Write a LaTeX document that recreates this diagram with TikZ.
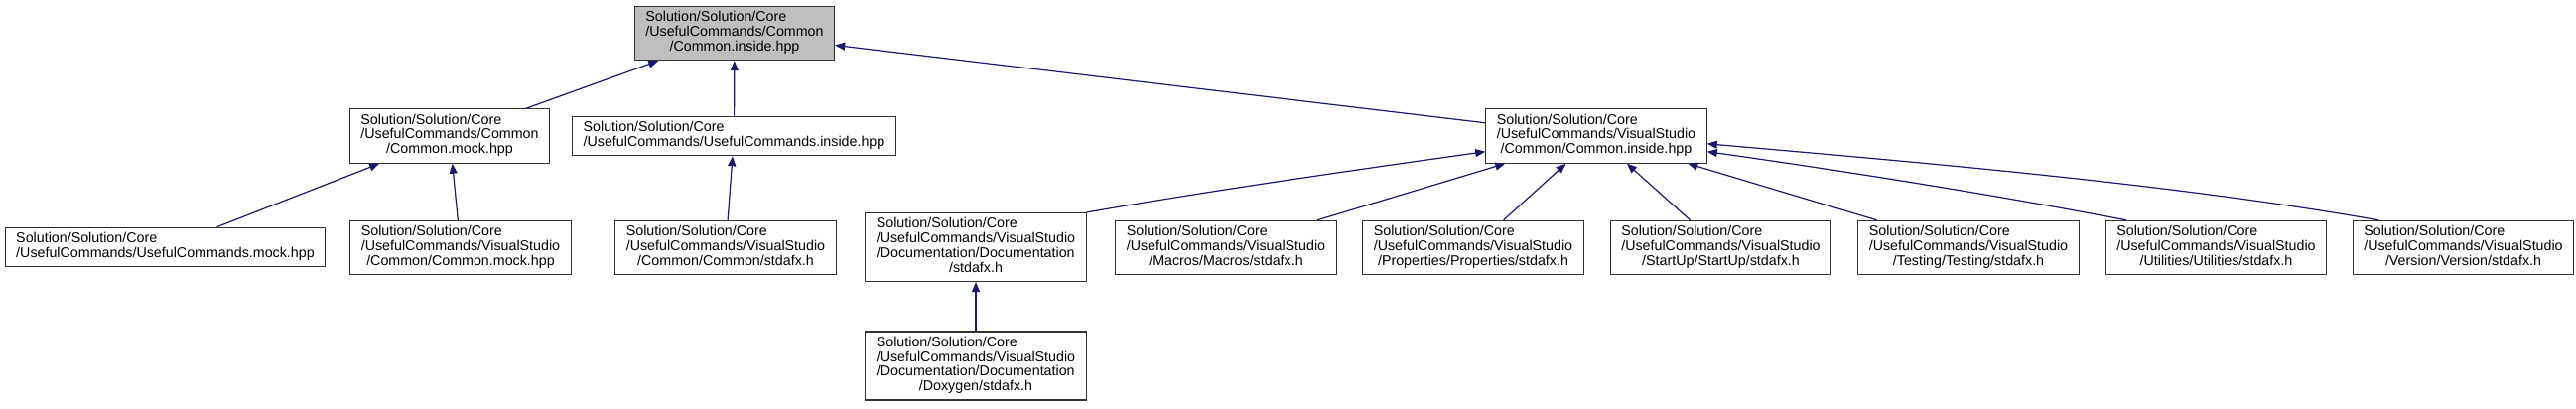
\documentclass[tikz,border=0pt]{standalone}
\usepackage{fontspec}
\setmainfont{Liberation Sans}
\usetikzlibrary{arrows.meta}
\definecolor{azulenlace}{HTML}{191970}
\newcommand{\ruta}[1]{\begin{tabular}{@{}l@{}}#1\end{tabular}}
\newcommand{\ultima}[1]{\multicolumn{1}{@{}c@{}}{#1}}

\begin{document}
\begin{tikzpicture}[
    x=0.75pt,
    y=-0.75pt,
    font=\fontsize{10.7}{11}\selectfont,
    archivo/.style={draw=black!80,line width=0.9pt,fill=white,inner xsep=8.25pt,inner ysep=3.75pt},
    raiz/.style={archivo,fill=black!25},
    incluye/.style={draw=azulenlace,line width=0.9pt,-{Triangle[length=7.5pt,width=6pt]}}
]
    \useasboundingbox (0,0) rectangle (2595,411);

    \node[raiz] (raiz) at (740,33.5)
        {\ruta{Solution/Solution/Core\\/UsefulCommands/Common\\\ultima{/Common.inside.hpp}}};

    \node[archivo] (cmock) at (453,137)
        {\ruta{Solution/Solution/Core\\/UsefulCommands/Common\\\ultima{/Common.mock.hpp}}};
    \node[archivo] (ucin) at (739.5,137)
        {\ruta{Solution/Solution/Core\\/UsefulCommands/UsefulCommands.inside.hpp}};
    \node[archivo] (vsin) at (1608,137)
        {\ruta{Solution/Solution/Core\\/UsefulCommands/VisualStudio\\\ultima{/Common/Common.inside.hpp}}};

    \node[archivo] (ucmock) at (166.5,249)
        {\ruta{Solution/Solution/Core\\/UsefulCommands/UsefulCommands.mock.hpp}};
    \node[archivo] (vscmock) at (464,249.5)
        {\ruta{Solution/Solution/Core\\/UsefulCommands/VisualStudio\\\ultima{/Common/Common.mock.hpp}}};
    \node[archivo] (cstd) at (731,249.5)
        {\ruta{Solution/Solution/Core\\/UsefulCommands/VisualStudio\\\ultima{/Common/Common/stdafx.h}}};
    \node[archivo] (docstd) at (983,249)
        {\ruta{Solution/Solution/Core\\/UsefulCommands/VisualStudio\\/Documentation/Documentation\\\ultima{/stdafx.h}}};
    \node[archivo] (macros) at (1235,249.5)
        {\ruta{Solution/Solution/Core\\/UsefulCommands/VisualStudio\\\ultima{/Macros/Macros/stdafx.h}}};
    \node[archivo] (props) at (1484,249.5)
        {\ruta{Solution/Solution/Core\\/UsefulCommands/VisualStudio\\\ultima{/Properties/Properties/stdafx.h}}};
    \node[archivo] (startup) at (1733.5,249.5)
        {\ruta{Solution/Solution/Core\\/UsefulCommands/VisualStudio\\\ultima{/StartUp/StartUp/stdafx.h}}};
    \node[archivo] (testing) at (1983,249.5)
        {\ruta{Solution/Solution/Core\\/UsefulCommands/VisualStudio\\\ultima{/Testing/Testing/stdafx.h}}};
    \node[archivo] (utils) at (2232.5,249.5)
        {\ruta{Solution/Solution/Core\\/UsefulCommands/VisualStudio\\\ultima{/Utilities/Utilities/stdafx.h}}};
    \node[archivo] (version) at (2481.5,249.5)
        {\ruta{Solution/Solution/Core\\/UsefulCommands/VisualStudio\\\ultima{/Version/Version/stdafx.h}}};

    \node[archivo] (doxy) at (983,368.5)
        {\ruta{Solution/Solution/Core\\/UsefulCommands/VisualStudio\\/Documentation/Documentation\\\ultima{/Doxygen/stdafx.h}}};

    \draw[incluye] (cmock) -- (raiz);
    \draw[incluye] (ucin) -- (raiz);
    \draw[incluye] (vsin) -- (raiz);
    \draw[incluye] (ucmock) -- (cmock);
    \draw[incluye] (vscmock) -- (cmock);
    \draw[incluye] (cstd) -- (ucin);
    \draw[incluye] (docstd.north east) to[out=10,in=-172,looseness=0.8] (vsin.188);
    \draw[incluye] (macros) -- (vsin);
    \draw[incluye] (props) -- (vsin);
    \draw[incluye] (startup) -- (vsin);
    \draw[incluye] (testing) -- (vsin);
    \draw[incluye] (utils.163) to[out=169,in=-8,looseness=0.8] (vsin.-8);
    \draw[incluye] (version.162) to[out=170,in=-5,looseness=0.8] (vsin.-4);
    \draw[incluye] (doxy) -- (docstd);
\end{tikzpicture}
\end{document}
